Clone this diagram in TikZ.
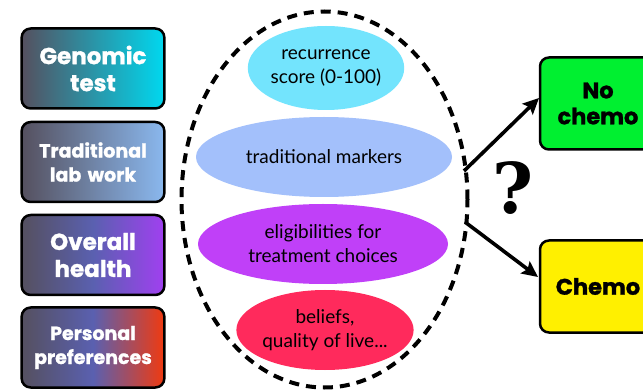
\documentclass[tikz,border=0pt]{standalone}
\usepackage{fontspec}
\setmainfont{Lato}
\newfontfamily\heavy{Poppins}[BoldFeatures={FakeBold=1.2}]
\newfontfamily\qf{DejaVu Serif}
\usetikzlibrary{shapes.geometric,arrows.meta}
\definecolor{dk}{HTML}{55505F}
\definecolor{cy}{HTML}{00D8EF}
\definecolor{lb}{HTML}{8AB8EE}
\definecolor{pu}{HTML}{A040F0}
\definecolor{ro}{HTML}{F03A10}
\definecolor{mb}{HTML}{5A60B0}
\definecolor{e1}{HTML}{73E4FD}
\definecolor{e2}{HTML}{A3C0FB}
\definecolor{e3}{HTML}{C040F8}
\definecolor{e4}{HTML}{FF2A5C}
\definecolor{gr}{HTML}{00F030}
\definecolor{ye}{HTML}{FFF000}
\tikzset{
  src/.style={draw=black, line width=2.5pt, rounded corners=9pt, minimum width=140pt, minimum height=80pt, text=white, font=\heavy\fontsize{23}{27}\selectfont\bfseries, align=center, text width=136pt},
  src2/.style={src, font=\heavy\fontsize{19}{24}\selectfont\bfseries},
  ell/.style={ellipse, draw=none, font=\fontsize{19}{24}\selectfont, align=center, inner sep=0pt},
  outbox/.style={draw=black, line width=2.5pt, rounded corners=9pt, minimum width=116pt, minimum height=92pt, font=\heavy\fontsize{22.5}{26}\selectfont\bfseries, align=center},
  arr/.style={line width=3.6pt, -{Stealth[length=16pt,width=15pt,inset=3pt]}}
}
\begin{document}
\begin{tikzpicture}[x=1pt,y=-1pt]
\useasboundingbox (0,0) rectangle (643,390);
\clip (0,0) rectangle (643,390);
\fill[white] (0,0) rectangle (643,390);
\node[src, left color=dk, right color=cy] (g) at (93,68.5) {Genomic\\test};
\node[src2, left color=dk, right color=lb] (t) at (93,162) {Traditional\\lab work};
\node[src, left color=dk, right color=pu, middle color=mb] (o) at (93,255) {Overall\\health};
\node[src2, left color=dk, right color=ro, middle color=mb] (p) at (93,347.5) {Personal\\preferences};
\node[ell, fill=e1, minimum width=152pt, minimum height=84pt] (r) at (326,68) {recurrence\\score (0-100)};
\node[ell, fill=e2, minimum width=256pt, minimum height=80pt] (m) at (324,157) {traditional markers};
\node[ell, fill=e3, minimum width=250pt, minimum height=80pt] (e) at (323,244) {eligibilities for\\treatment choices};
\node[ell, fill=e4, minimum width=156pt, minimum height=80pt] (b) at (325,330) {beliefs,\\quality of live...};
\node[ellipse, draw=black, line width=4pt, dash pattern=on 10pt off 7pt, minimum width=286pt, minimum height=376pt, inner sep=0pt] (big) at (324.5,199.5) {};
\node[outbox, fill=gr] (nc) at (598,103.5) {No\\chemo};
\node[outbox, fill=ye] (c) at (598,286.5) {Chemo};
\coordinate (s1) at (464,171);
\coordinate (s2) at (465,222);
\coordinate (t1) at (539,98);
\coordinate (t2) at (538,277);
\draw[arr] (s1) -- (t1);
\draw[arr] (s2) -- (t2);
\node[font=\qf\fontsize{70}{70}\selectfont\bfseries] (q) at (513,188) {?};
\end{tikzpicture}
\end{document}
